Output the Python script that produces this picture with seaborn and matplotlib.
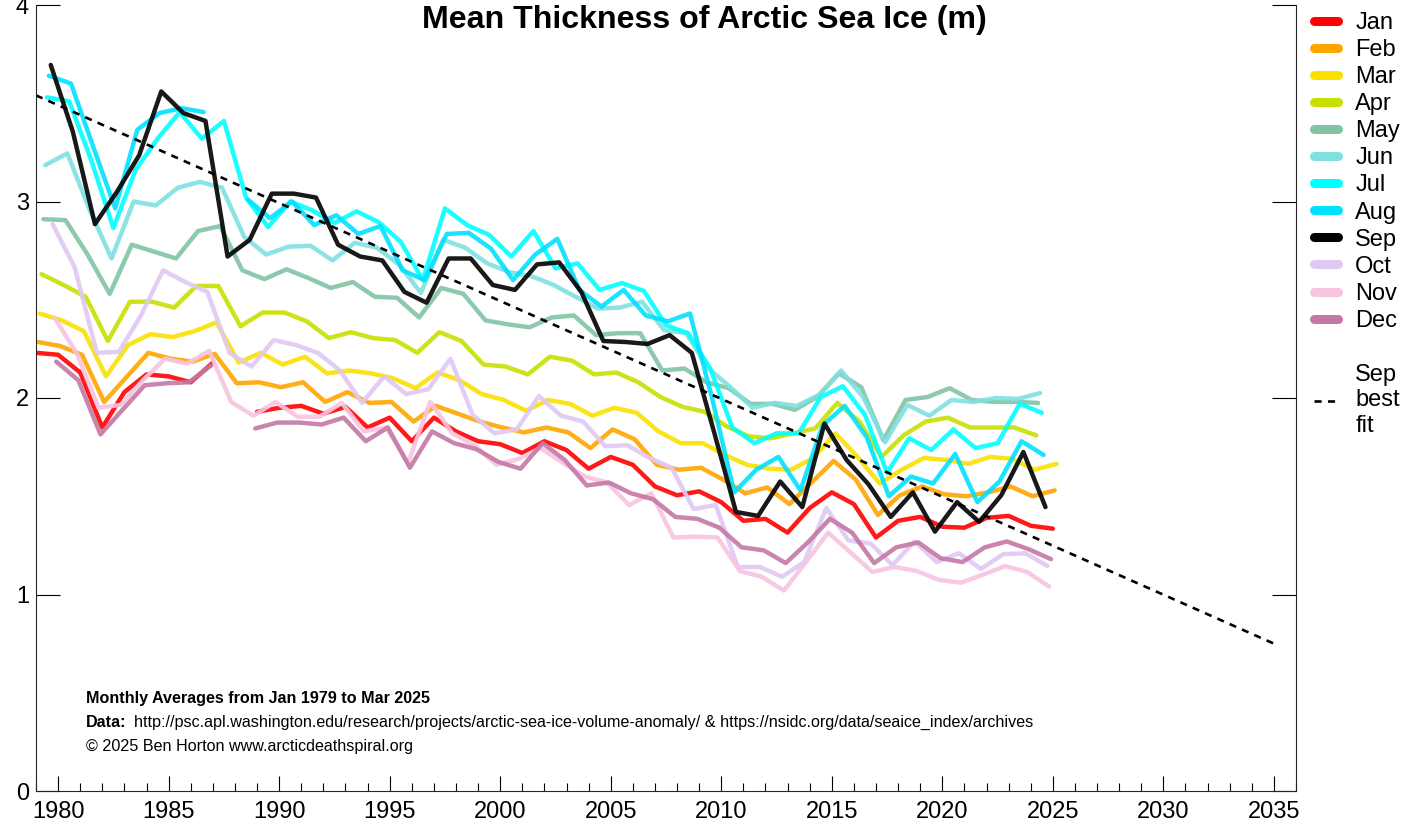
import matplotlib
matplotlib.use("Agg")
import matplotlib.pyplot as plt
import numpy as np
import pandas as pd
import seaborn as sns
from matplotlib.lines import Line2D
from matplotlib.ticker import MultipleLocator

nan = float("nan")

# Mean thickness in metres, one value per year starting 1979
jan = [2.23, 2.22, 2.13, 1.85, 2.03, 2.12, 2.11, 2.08, 2.18, nan, 1.93, 1.95, 1.96, 1.92, 1.955, 1.85,
       1.90, 1.78, 1.90, 1.83, 1.78, 1.765, 1.72, 1.78, 1.735, 1.64, 1.70, 1.66, 1.55, 1.505, 1.525,
       1.47, 1.375, 1.385, 1.315, 1.44, 1.52, 1.46, 1.29, 1.375, 1.395, 1.345, 1.34, 1.39, 1.40, 1.35, 1.335]
feb = [2.285, 2.265, 2.22, 1.98, 2.105, 2.23, 2.20, 2.185, 2.225, 2.075, 2.08, 2.055, 2.08, 1.98, 2.03,
       1.975, 1.98, 1.88, 1.96, 1.92, 1.88, 1.85, 1.825, 1.85, 1.825, 1.745, 1.84, 1.79, 1.66, 1.635,
       1.645, 1.585, 1.515, 1.545, 1.46, 1.57, 1.68, 1.585, 1.405, 1.505, 1.55, 1.51, 1.50, 1.52, 1.55, 1.50, 1.53]
mar = [2.43, 2.395, 2.34, 2.11, 2.27, 2.325, 2.31, 2.34, 2.385, 2.18, 2.23, 2.17, 2.21, 2.125, 2.14,
       2.125, 2.10, 2.05, 2.13, 2.09, 2.02, 1.99, 1.935, 1.99, 1.97, 1.91, 1.95, 1.925, 1.83, 1.77,
       1.77, 1.71, 1.66, 1.64, 1.635, 1.695, 1.82, 1.70, 1.565, 1.635, 1.695, 1.685, 1.665, 1.70, 1.69, 1.635, 1.665]
apr = [2.63, 2.575, 2.515, 2.29, 2.49, 2.49, 2.46, 2.57, 2.57, 2.365, 2.435, 2.435, 2.39, 2.305, 2.335,
       2.305, 2.295, 2.23, 2.335, 2.29, 2.17, 2.16, 2.12, 2.21, 2.19, 2.12, 2.13, 2.08, 2.005,
       1.955, 1.93, 1.855, 1.805, 1.795, 1.82, 1.845, 1.975, 1.88, 1.70, 1.81, 1.88, 1.90, 1.85, 1.85, 1.85, 1.81]
may = [2.91, 2.905, 2.73, 2.53, 2.78, 2.745, 2.71, 2.85, 2.875, 2.65, 2.605, 2.655, 2.61, 2.56, 2.59,
       2.515, 2.51, 2.41, 2.56, 2.53, 2.395, 2.375, 2.36, 2.41, 2.42, 2.32, 2.33, 2.33, 2.14,
       2.15, 2.08, 2.05, 1.97, 1.97, 1.94, 2.005, 2.125, 2.055, 1.785, 1.99, 2.005, 2.05, 1.99, 1.98, 1.98, 1.975]
jun = [3.185, 3.245, 2.96, 2.71, 3.0, 2.98, 3.07, 3.10, 3.07, 2.82, 2.73, 2.77, 2.775, 2.70, 2.79,
       2.765, 2.68, 2.535, 2.805, 2.765, 2.685, 2.64, 2.62, 2.575, 2.515, 2.455, 2.46, 2.49, 2.345,
       2.33, 2.15, 2.055, 1.95, 1.975, 1.96, 2.015, 2.14, 2.005, 1.775, 1.965, 1.91, 1.99, 1.98, 2.00, 1.995, 2.025]
jul = [3.53, 3.51, 3.21, 2.865, 3.16, 3.32, 3.455, 3.32, 3.41, 3.02, 2.87, 3.0, 2.955, 2.89, 2.95,
       2.895, 2.795, 2.60, 2.965, 2.88, 2.83, 2.72, 2.85, 2.66, 2.685, 2.55, 2.585, 2.545, 2.37,
       2.33, 2.15, 1.85, 1.77, 1.82, 1.82, 2.005, 2.06, 1.915, 1.62, 1.795, 1.735, 1.84, 1.745, 1.77, 1.97, 1.925]
aug = [3.64, 3.60, 3.28, 2.965, 3.365, 3.45, 3.475, 3.455, nan, 3.01, 2.915, 3.0, 2.88, 2.93, 2.835,
       2.875, 2.65, 2.60, 2.835, 2.84, 2.76, 2.60, 2.73, 2.81, 2.55, 2.465, 2.55, 2.42, 2.39,
       2.43, 2.0, 1.52, 1.635, 1.70, 1.53, 1.86, 1.96, 1.80, 1.50, 1.60, 1.565, 1.715, 1.47, 1.575, 1.78, 1.71]
sep = [3.695, 3.355, 2.885, 3.05, 3.235, 3.56, 3.45, 3.41, 2.72, 2.805, 3.04, 3.04, 3.02, 2.78, 2.72,
       2.70, 2.54, 2.485, 2.71, 2.71, 2.575, 2.55, 2.68, 2.69, 2.54, 2.29, 2.285, 2.275, 2.32,
       2.23, 1.83, 1.42, 1.40, 1.575, 1.445, 1.87, 1.685, 1.56, 1.395, 1.52, 1.32, 1.47, 1.37, 1.505, 1.725, 1.445]
oct_ = [2.885, 2.665, 2.23, 2.235, 2.42, 2.65, 2.59, 2.54, 2.23, 2.16, 2.295, 2.27, 2.23, 2.14,
        1.975, 2.11, 2.02, 2.045, 2.20, 1.915, 1.82, 1.84, 2.01, 1.91, 1.88, 1.755, 1.76, 1.695, 1.645,
        1.435, 1.455, 1.14, 1.14, 1.09, 1.165, 1.44, 1.275, 1.26, 1.15, 1.27, 1.165, 1.21, 1.13, 1.205, 1.21, 1.145]
nov = [2.41, 2.23, 1.95, 1.965, 2.09, 2.20, 2.175, 2.24, 1.98, 1.91, 1.98, 1.905, 1.905, 1.975,
       1.83, 1.85, 1.67, 1.98, 1.82, 1.76, 1.66, 1.69, 1.745, 1.67, 1.60, 1.57, 1.455, 1.515,
       1.29, 1.295, 1.29, 1.12, 1.09, 1.02, 1.165, 1.315, 1.215, 1.115, 1.14, 1.12, 1.075, 1.06, 1.10, 1.145, 1.115, 1.04]
dec = [2.185, 2.09, 1.815, 1.94, 2.065, 2.075, 2.08, 2.165, nan, 1.845, 1.875, 1.875, 1.865, 1.90,
       1.78, 1.85, 1.645, 1.83, 1.77, 1.74, 1.675, 1.64, 1.77, 1.685, 1.555, 1.57, 1.515, 1.485,
       1.395, 1.385, 1.34, 1.24, 1.225, 1.16, 1.265, 1.385, 1.315, 1.16, 1.24, 1.265, 1.185, 1.165, 1.24, 1.27, 1.23, 1.18]

month_names = ["Jan", "Feb", "Mar", "Apr", "May", "Jun", "Jul", "Aug", "Sep", "Oct", "Nov", "Dec"]
month_values = [jan, feb, mar, apr, may, jun, jul, aug, sep, oct_, nov, dec]
month_colors = ["#ff0000", "#ffa500", "#fae100", "#c8e000", "#80c4a4", "#80e0e0",
                "#00ffff", "#00e0ff", "#000000", "#e0c8f4", "#f8c4e0", "#c478a4"]

fit_years = [1979, 2035]
fit_values = [3.54, 0.75]

start_year = 1979
fit_dash = (0, (2.7, 2.4))

# long table, a new segment starts after each missing month so the line breaks there
frames = []
for i, (name, values) in enumerate(zip(month_names, month_values)):
    s = pd.Series(values, dtype=float)
    frames.append(pd.DataFrame({
        "time": start_year + np.arange(len(s)) + i / 12,
        "thickness": s,
        "month": name,
        "segment": s.isna().cumsum(),
    }))
df = pd.concat(frames, ignore_index=True)

sns.set_theme(style="ticks", font="Liberation Sans", rc={
    "axes.linewidth": 0.8,
    "xtick.direction": "in",
    "ytick.direction": "in",
    "text.color": "black",
    "axes.labelcolor": "black",
    "xtick.color": "black",
    "ytick.color": "black",
})

W, H = 1405, 826
fig = plt.figure(figsize=(W / 100, H / 100), dpi=100)
ax = fig.add_axes([36 / W, 1 - 791 / H, (1296 - 36) / W, (791 - 5) / H])

sns.lineplot(
    data=df, x="time", y="thickness", hue="month", units="segment", estimator=None,
    hue_order=month_names, palette=dict(zip(month_names, month_colors)),
    linewidth=3.2, alpha=0.9, legend=False, sort=False, ax=ax,
)
sns.lineplot(x=fit_years, y=fit_values, color="black", linewidth=1.9,
             linestyle=fit_dash, estimator=None, ax=ax)

ax.set_xlim(1979, 2036)
ax.set_ylim(0, 4)
ax.set_xlabel("")
ax.set_ylabel("")
ax.xaxis.set_major_locator(MultipleLocator(5))
ax.xaxis.set_minor_locator(MultipleLocator(1))
ax.yaxis.set_major_locator(MultipleLocator(1))
ax.tick_params(axis="x", which="major", length=10.5, width=0.8, labelsize=17, pad=7)
ax.tick_params(axis="x", which="minor", length=5.5, width=0.8)
ax.tick_params(axis="y", which="major", length=17.5, width=0.8, labelsize=17, pad=5, right=True)
ax.spines["top"].set_visible(False)
ax.spines["right"].set_visible(True)

fig.text(704 / W, 1 - 20 / H, "Mean Thickness of Arctic Sea Ice (m)", ha="center", va="center",
         fontsize=23.1, fontweight="bold")
fig.text(86 / W, 1 - 703 / H, "Monthly Averages from Jan 1979 to Mar 2025", fontsize=11.6, fontweight="bold")
fig.text(86 / W, 1 - 727 / H, "Data:", fontsize=11.6, fontweight="bold")
fig.text(134 / W, 1 - 727 / H,
         "http://psc.apl.washington.edu/research/projects/arctic-sea-ice-volume-anomaly/ & "
         "https://nsidc.org/data/seaice_index/archives", fontsize=11.6)
fig.text(86 / W, 1 - 751 / H, "\u00a9 2025 Ben Horton www.arcticdeathspiral.org", fontsize=11.6)

handles = [Line2D([], [], color=c, linewidth=6.5, solid_capstyle="round") for c in month_colors]
handles.append(Line2D([], [], color="none"))
handles.append(Line2D([], [], color="black", linewidth=1.9, linestyle=fit_dash))
labels = month_names + [" ", "Sep\nbest\nfit"]
fig.legend(handles, labels, loc="upper left", bbox_to_anchor=(1314 / W, 1 - 12 / H), frameon=False,
           fontsize=17, handlelength=1.0, handletextpad=0.75, labelspacing=0.215,
           borderpad=0, borderaxespad=0)

fig.savefig("out.png", dpi=100)
